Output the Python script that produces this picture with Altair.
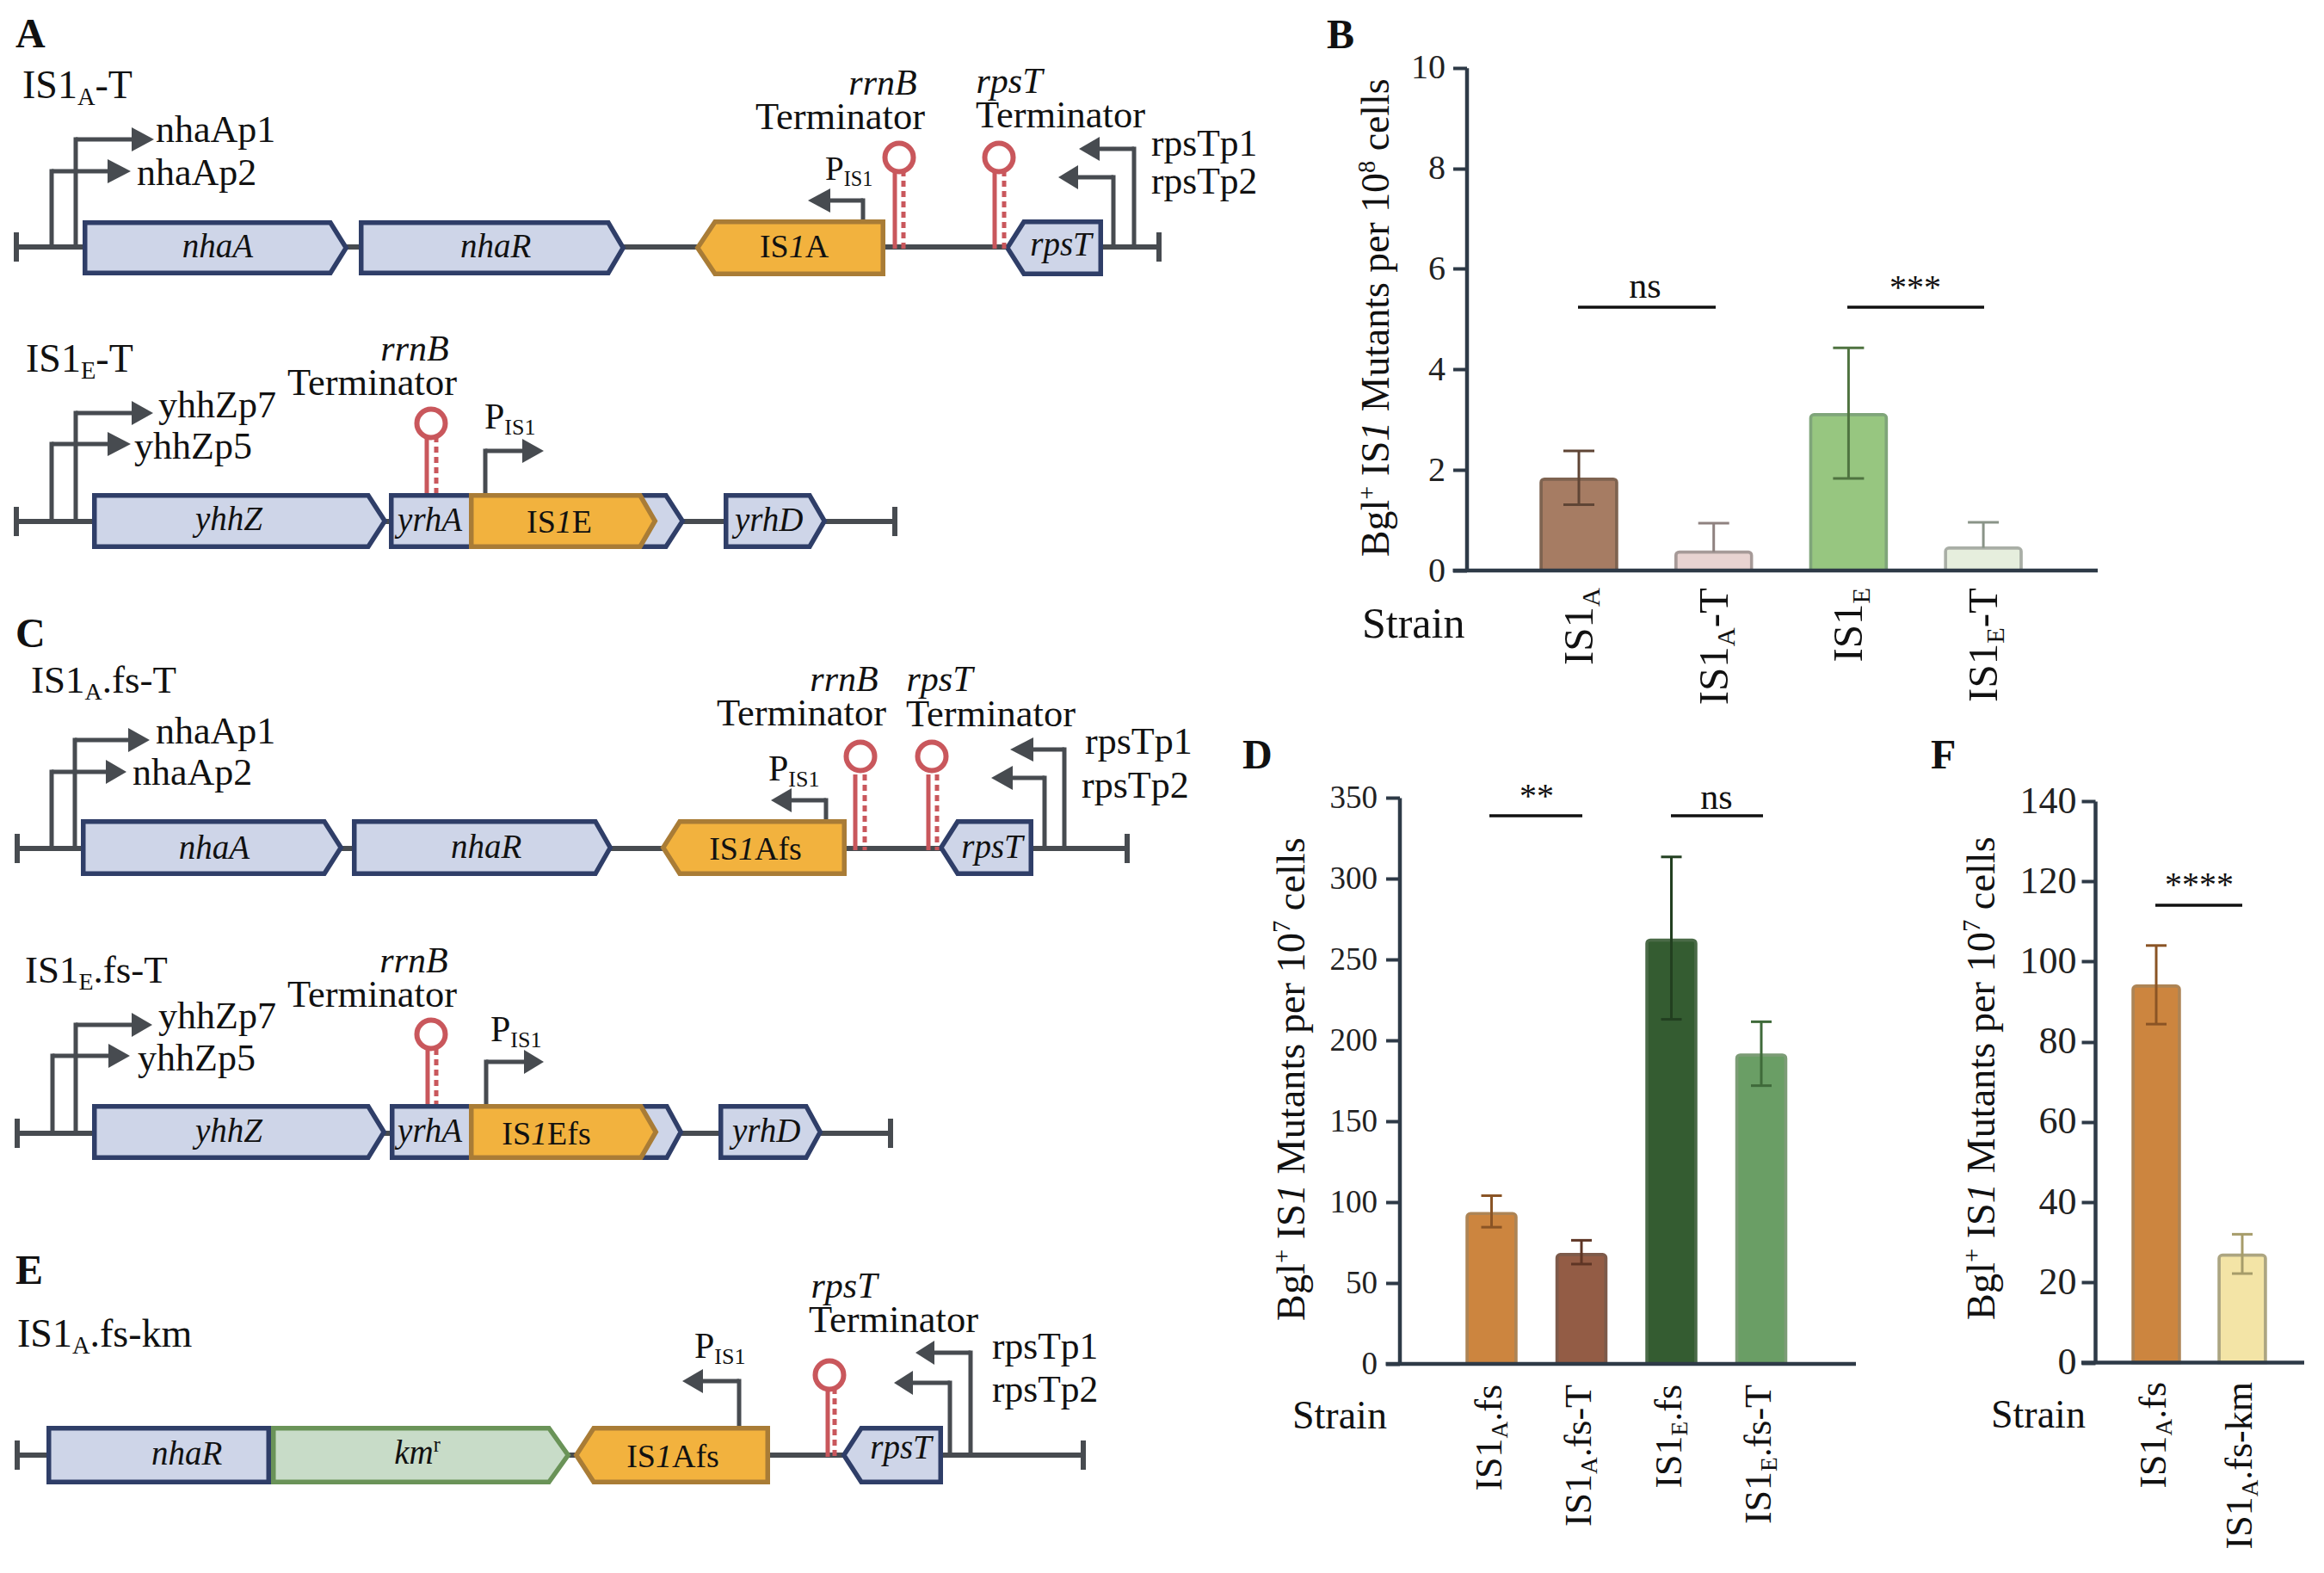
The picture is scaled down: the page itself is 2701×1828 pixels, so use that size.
import re
import altair as alt
import pandas as pd

FONT = "Liberation Serif"
INK = "#111111"
WIRE = "#474b50"
RED = "#c9575c"
AXIS = "#2e3a47"
HOST = ("#ced5e8", "#2f3e68")
INS = ("#f2b23e", "#a97c36")
KM = ("#c8dcc8", "#6a9358")

# ---------- bar panels ----------
B_strains = ["IS1A", "IS1A-T", "IS1E", "IS1E-T"]
B_labels = ["IS1_{A}", "IS1_{A}-T", "IS1_{E}", "IS1_{E}-T"]
B_values = [1.82, 0.37, 3.10, 0.45]
B_hi = [2.38, 0.94, 4.43, 0.96]
B_lo = [1.31, None, 1.83, None]
B_fill = ["#a67c63", "#e8d3d1", "#97c680", "#e6eedd"]
B_edge = ["#7e6350", "#a69a98", "#7fa57a", "#a9aea6"]
B_err = ["#5f4535", "#8f8280", "#4f7340", "#8a9488"]
B_ticks = [0, 2, 4, 6, 8, 10]

D_strains = ["IS1A.fs", "IS1A.fs-T", "IS1E.fs", "IS1E.fs-T"]
D_labels = ["IS1_{A}.fs", "IS1_{A}.fs-T", "IS1_{E}.fs", "IS1_{E}.fs-T"]
D_values = [92.9, 67.7, 262, 191]
D_hi = [104, 76.4, 313.4, 211.5]
D_lo = [84.5, 61.7, 213, 172]
D_fill = ["#cc853f", "#935c45", "#345c31", "#6a9e65"]
D_edge = ["#ad8455", "#7d5a4a", "#4a6a47", "#7c9c76"]
D_err = ["#8a5425", "#5e3525", "#223f20", "#3f6a3a"]
D_ticks = [0, 50, 100, 150, 200, 250, 300, 350]

F_strains = ["IS1A.fs ", "IS1A.fs-km"]
F_labels = ["IS1_{A}.fs", "IS1_{A}.fs-km"]
F_values = [93.9, 26.8]
F_hi = [104, 32]
F_lo = [84.4, 22.2]
F_fill = ["#cc853f", "#f3e4a6"]
F_edge = ["#ad8455", "#aca581"]
F_err = ["#8a5425", "#a69c6a"]
F_ticks = [0, 20, 40, 60, 80, 100, 120, 140]

# ---------- construct maps: name, left/tip, shoulder, right/tip, top, bottom ----------
HOST_GENES = [
    ("A-nhaA", 96, 384, 405, 256, 320), ("A-nhaR", 417, 707, 727, 256, 320),
    ("A-rpsT", 1168, 1190, 1282, 255, 321),
    ("E-yhhZ", 107, 428, 450, 573, 638), ("E-yrhA", 452, 774, 796, 573, 638),
    ("E-yrhD", 841, 941, 961, 573, 638),
    ("C-nhaA", 94, 377, 399, 952, 1018), ("C-nhaR", 409, 692, 712, 952, 1018),
    ("C-rpsT", 1091, 1113, 1201, 952, 1018),
    ("G-yhhZ", 107, 428, 449, 1283, 1348), ("G-yrhA", 453, 775, 794, 1283, 1348),
    ("G-yrhD", 835, 937, 956, 1283, 1348),
    ("K-nhaR", 54, None, 315, 1657, 1725), ("K-rpsT", 978, 1001, 1096, 1657, 1725),
]
INSERT_GENES = [
    ("A-IS1A", 808, 831, 1029, 255, 321), ("E-IS1E", 545, 744, 764, 573, 638),
    ("C-IS1Afs", 768, 790, 984, 952, 1018), ("G-IS1Efs", 545, 745, 765, 1283, 1348),
    ("K-IS1Afs", 667, 690, 895, 1657, 1725),
]
KM_GENES = [("K-km", 315, 638, 663, 1657, 1725)]

# start, end, level
BACKBONES = [(19, 1347, 287), (19, 1040, 606), (20, 1310, 986), (20, 1035, 1317), (20, 1259, 1691)]

# stem x, foot, top, head base, head tip
PROMOTERS = [
    (88, 287, 162, 153, 179), (60, 287, 199, 125, 152), (1003, 255, 233, 965, 939),
    (1318, 287, 173, 1278, 1254), (1294, 287, 206, 1253, 1230),
    (88, 606, 480, 153, 178), (60, 606, 516, 125, 152), (564, 573, 524, 607, 632),
    (87, 986, 860, 149, 174), (60, 986, 897, 123, 147), (960, 952, 930, 920, 896),
    (1237, 986, 871, 1201, 1174), (1214, 986, 904, 1177, 1152),
    (88, 1317, 1191, 153, 177), (61, 1317, 1227, 126, 151), (565, 1283, 1234, 609, 632),
    (859, 1657, 1605, 817, 793), (1128, 1691, 1572, 1086, 1064), (1104, 1691, 1607, 1061, 1039),
]

# solid stem x, dashed stem x, loop x, loop y, stem top, stem foot
TERMINATORS = [
    (1040, 1050, 1045, 183, 198, 289), (1156, 1167, 1161, 183, 198, 289),
    (496, 507, 501, 492, 507, 573),
    (994, 1005, 1000, 879, 900, 988), (1079, 1089, 1083, 879, 900, 988),
    (497, 507, 501, 1202, 1219, 1283),
    (962, 970, 964, 1598, 1613, 1693),
]

# x, baseline, markup, size, anchor, angle
TEXTS = [
    (18, 55, "#A", 48, "l", 0), (1542, 56, "#B", 48, "l", 0), (18, 752, "#C", 48, "l", 0),
    (1444, 893, "#D", 48, "l", 0), (18, 1492, "#E", 48, "l", 0), (2244, 893, "#F", 48, "l", 0),
    # map 1
    (26, 114, "IS1_{A}-T", 46, "l", 0), (181, 165, "nhaAp1", 44, "l", 0), (159, 215, "nhaAp2", 44, "l", 0),
    (253, 299, "/nhaA/", 39, "c", 0), (574, 299, "/nhaR/", 39, "c", 0), (923, 299, "IS/1/A", 38, "c", 0),
    (1233, 297, "/rpsT/", 39, "c", 0), (1026, 110, "/rrnB/", 42, "c", 0), (978, 150, "Terminator", 44.5, "c", 0),
    (1173, 108, "/rpsT/", 42, "c", 0), (1234, 148, "Terminator", 44.5, "c", 0),
    (959, 209, "P_{IS1}", 39, "l", 0), (1338, 181, "rpsTp1", 43.5, "l", 0), (1338, 225, "rpsTp2", 43.5, "l", 0),
    # map 2
    (30, 432, "IS1_{E}-T", 46, "l", 0), (184, 485, "yhhZp7", 44, "l", 0), (156, 533, "yhhZp5", 44, "l", 0),
    (482, 419, "/rrnB/", 42, "c", 0), (434, 459, "Terminator", 44.5, "c", 0), (563, 498, "P_{IS1}", 42, "l", 0),
    (266, 616, "/yhhZ/", 39, "c", 0), (500, 617, "/yrhA/", 39, "c", 0), (650, 619, "IS/1/E", 38, "c", 0),
    (894, 617, "/yrhD/", 39, "c", 0),
    # map 3
    (36, 805, "IS1_{A}.fs-T", 45, "l", 0), (181, 864, "nhaAp1", 44, "l", 0), (154, 912, "nhaAp2", 44, "l", 0),
    (249, 998, "/nhaA/", 39, "c", 0), (563, 997, "/nhaR/", 39, "c", 0), (878, 999, "IS/1/Afs", 38, "c", 0),
    (1153, 997, "/rpsT/", 39, "c", 0), (981, 803, "/rrnB/", 42, "c", 0), (933, 843, "Terminator", 44.5, "c", 0),
    (1092, 803, "/rpsT/", 42, "c", 0), (1153, 844, "Terminator", 44.5, "c", 0), (893, 907, "P_{IS1}", 42, "l", 0),
    (1261, 876, "rpsTp1", 44, "l", 0), (1257, 927, "rpsTp2", 44, "l", 0),
    # map 4
    (29, 1142, "IS1_{E}.fs-T", 45, "l", 0), (184, 1195, "yhhZp7", 44, "l", 0), (160, 1244, "yhhZp5", 44, "l", 0),
    (266, 1327, "/yhhZ/", 39, "c", 0), (500, 1327, "/yrhA/", 39, "c", 0), (635, 1330, "IS/1/Efs", 38, "c", 0),
    (891, 1327, "/yrhD/", 39, "c", 0), (481, 1130, "/rrnB/", 42, "c", 0), (434, 1170, "Terminator", 44.5, "c", 0),
    (570, 1210, "P_{IS1}", 42, "l", 0),
    # map 5
    (20, 1565, "IS1_{A}.fs-km", 46, "l", 0), (215, 1702, "/nhaR/", 39, "c", 0), (485, 1701, "/km/^{r}", 39, "c", 0),
    (782, 1705, "IS/1/Afs", 38, "c", 0), (1047, 1695, "/rpsT/", 39, "c", 0), (981, 1508, "/rpsT/", 42, "c", 0),
    (1040, 1548, "Terminator", 44.5, "c", 0), (807, 1578, "P_{IS1}", 42, "l", 0),
    (1153, 1579, "rpsTp1", 43.5, "l", 0), (1153, 1629, "rpsTp2", 43.5, "l", 0),
    # panel annotations
    (1614, 647, "Bgl^{+} IS/1/ Mutants per 10^{8} cells", 45.8, "l", 270),
    (1516, 1535, "Bgl^{+} IS/1/ Mutants per 10^{7} cells", 46.3, "l", 270),
    (2318, 1534, "Bgl^{+} IS/1/ Mutants per 10^{7} cells", 46.3, "l", 270),
    (1583, 741, "Strain", 50, "l", 0), (1502, 1660, "Strain", 46, "l", 0), (2314, 1659, "Strain", 46, "l", 0),
    (1912, 346, "ns", 42, "c", 0), (2226, 347, "***", 40, "c", 0),
    (1786, 938, "**", 40, "c", 0), (1995, 940, "ns", 42, "c", 0), (2556, 1041, "****", 40, "c", 0),
]

NORMAL = {"I": .333, "S": .556, "A": .722, "E": .611, "T": .611, "P": .556, "B": .667, "M": .889, "Z": .611,
          "a": .444, "c": .444, "e": .444, "f": .333, "g": .5, "h": .5, "i": .278, "k": .5, "l": .278, "m": .778,
          "n": .5, "o": .5, "p": .5, "r": .333, "s": .389, "t": .278, "u": .5, "y": .5, " ": .25, ".": .25,
          "-": .333, "+": .564, "*": .5}
ITALIC = {"A": .611, "B": .611, "D": .722, "T": .556, "Z": .556, "a": .5, "h": .5, "k": .444, "m": .722,
          "n": .5, "p": .5, "r": .389, "s": .389, "y": .444, "1": .5}


def spans(markup):
    out = []
    for tok in re.findall(r"_\{[^}]*\}|\^\{[^}]*\}|/[^/]*/|[^_^/]+", markup):
        if tok[0] == "_":
            out.append((tok[2:-1], "normal", .62, .17))
        elif tok[0] == "^":
            out.append((tok[2:-1], "normal", .62, -.36))
        elif tok[0] == "/":
            out.append((tok[1:-1], "italic", 1, 0))
        else:
            out.append((tok, "normal", 1, 0))
    return out


def wid(txt, style):
    tab = ITALIC if style == "italic" else NORMAL
    return sum(tab.get(ch, .5) for ch in txt)


def explode(x, y, markup, size, anchor, angle):
    if markup[0] == "#":
        return [dict(x=x, y=y, t=markup[1:], s=size, a=angle, w="bold")]
    parts = spans(markup)
    total = sum(wid(t, st) * size * k for t, st, k, _ in parts)
    pos = {"l": 0, "c": total / 2, "r": total}[anchor]
    rows = []
    off = -pos
    for t, st, k, dy in parts:
        lead = len(t) - len(t.lstrip(" "))
        adv = off + lead * NORMAL[" "] * size * k
        shown = t.strip(" ")
        if angle == 270:
            rows.append(dict(x=x + dy * size, y=y - adv, t=shown, s=size * k, a=270, w=st))
        else:
            rows.append(dict(x=x + adv, y=y + dy * size, t=shown, s=size * k, a=0, w=st))
        off += wid(t, st) * size * k
    return rows


W, H = 2685, 1812
PX = alt.Scale(domain=[8, 8 + W], range=[0, W], nice=False, zero=False)
PY = alt.Scale(domain=[8, 8 + H], range=[0, H], nice=False, zero=False)
xq = lambda f="x": alt.X(f"{f}:Q", scale=PX, axis=None)
yq = lambda f="y": alt.Y(f"{f}:Q", scale=PY, axis=None)


def polygons(items, colours, sw=5.5):
    rows = []
    for name, a, b, c, top, bot in items:
        t, d, m = top + sw / 2, bot - sw / 2, (top + bot) / 2
        if b is None:
            pts = [(a + sw / 2, t, d), (c - sw / 2, t, d)]
        elif b > a and c > b and (c - b) < (b - a):
            pts = [(a + sw / 2, t, d), (b, t, d), (c - sw / 2, m, m)]
        else:
            pts = [(a + sw / 2, m, m), (b, t, d), (c - sw / 2, t, d)]
        rows += [dict(id=name, x=p[0], y=p[1], y2=p[2]) for p in pts]
    return (alt.Chart(pd.DataFrame(rows)).mark_area(fill=colours[0], stroke=colours[1], strokeWidth=sw,
                                                    opacity=1, strokeJoin="miter", interpolate="linear")
            .encode(x=xq(), y=yq(), y2="y2:Q", detail="id:N"))


def rules(rows, dash=None):
    kw = {"strokeDash": dash} if dash else {}
    return (alt.Chart(pd.DataFrame(rows)).mark_rule(**kw)
            .encode(x=xq(), x2="x2:Q", y=yq(), y2="y2:Q",
                    color=alt.Color("c:N", scale=None), strokeWidth=alt.StrokeWidth("w:Q", scale=None)))


def seg(x, y, x2, y2, c, w):
    return dict(x=x, y=y, x2=x2, y2=y2, c=c, w=w)


layers = []

# wires
wire = []
for a, b, y in BACKBONES:
    wire.append(seg(a, y, b, y, WIRE, 6))
    wire.append(seg(a, y - 17, a, y + 17, WIRE, 6))
    wire.append(seg(b, y - 17, b, y + 17, WIRE, 6))
for sx, foot, top, base, tip in PROMOTERS:
    wire.append(seg(sx, foot, sx, top - 2.5, WIRE, 5))
    wire.append(seg(sx, top, base, top, WIRE, 5))
layers.append(rules(wire))

# arrow heads
heads = []
for i, (sx, foot, top, base, tip) in enumerate(PROMOTERS):
    if tip > base:
        heads += [dict(id=i, x=base, y=top - 14, y2=top + 14), dict(id=i, x=tip, y=top, y2=top)]
    else:
        heads += [dict(id=i, x=tip, y=top, y2=top), dict(id=i, x=base, y=top - 14, y2=top + 14)]
layers.append(alt.Chart(pd.DataFrame(heads)).mark_area(fill=WIRE, opacity=1)
              .encode(x=xq(), y=yq(), y2="y2:Q", detail="id:N"))

layers.append(polygons(HOST_GENES, HOST))
layers.append(polygons(KM_GENES, KM))
layers.append(polygons(INSERT_GENES, INS))

# terminators
layers.append(rules([seg(s, top, s, foot, RED, 5) for s, d, lx, ly, top, foot in TERMINATORS]))
layers.append(rules([seg(d, top, d, foot, RED, 5) for s, d, lx, ly, top, foot in TERMINATORS], dash=[7, 5]))
loops = pd.DataFrame([dict(x=lx, y=ly) for s, d, lx, ly, top, foot in TERMINATORS])
layers.append(alt.Chart(loops).mark_point(shape="circle", filled=False, size=1090, stroke=RED, strokeWidth=6, opacity=1)
              .encode(x=xq(), y=yq()))


def panel(strains, labels, vals, hi, lo, fill, edge, err, ticks, axis_x, y0, ytop, ymax,
          c0, step, bar_w, cap_w, right, tick_font, tick_pad, label_font, label_off, label_top, sigs):
    n = len(strains)
    df = pd.DataFrame(dict(strain=strains, v=vals, hi=hi, fill=fill, edge=edge, err=err))
    df["lo"] = [l if l is not None else v for l, v in zip(lo, vals)]
    xs = alt.Scale(domain=strains, range=[c0 - step / 2 - 8, c0 + step * (n - 0.5) - 8], paddingInner=0, paddingOuter=0)
    ys = alt.Scale(domain=[0, ymax], range=[y0 - 8, ytop - 8], nice=False, zero=False)
    x = alt.X("strain:N", scale=xs, axis=None, sort=None)
    yaxis = alt.Axis(values=ticks, title=None, grid=False, orient="left", offset=-(axis_x - 8), tickSize=16, tickWidth=4,
                     tickColor=AXIS, domainColor=AXIS, domainWidth=4.5, labelFont=FONT, labelFontSize=tick_font,
                     labelColor="#222222", labelPadding=tick_pad, format="d")
    out = []
    for i in range(n):
        one = df.iloc[[i]]
        out.append(
            alt.Chart(one).mark_bar(size=bar_w - 3, stroke=edge[i], fill=fill[i], strokeWidth=3.5,
                                    cornerRadiusTopLeft=4, cornerRadiusTopRight=4, opacity=1)
            .encode(x=x, y=alt.Y("v:Q", scale=ys, axis=yaxis if i == 0 else None))
        )
    out += [
        alt.Chart(df).mark_rule(strokeWidth=3)
        .encode(x=x, y=alt.Y("hi:Q", scale=ys, axis=None), y2="lo:Q", color=alt.Color("err:N", scale=None)),
        alt.Chart(df).mark_tick(size=cap_w, thickness=3, orient="horizontal", opacity=1)
        .encode(x=x, y=alt.Y("hi:Q", scale=ys, axis=None), color=alt.Color("err:N", scale=None)),
        alt.Chart(df[[l is not None for l in lo]]).mark_tick(size=cap_w, thickness=3, orient="horizontal", opacity=1)
        .encode(x=x, y=alt.Y("lo:Q", scale=ys, axis=None), color=alt.Color("err:N", scale=None)),
    ]
    rows = [seg(axis_x - 16, y0, right, y0, AXIS, 4.5)]
    for a, b, y in sigs:
        rows.append(seg(a, y, b, y, "#111111", 3.5))
    out.append(rules(rows))
    labs = []
    for i, lab in enumerate(labels):
        labs.append((c0 + step * i + label_off, label_top, lab, label_font, "r", 270))
    return out, labs


extra = []
for args in [
    (B_strains, B_labels, B_values, B_hi, B_lo, B_fill, B_edge, B_err, B_ticks, 1704.5, 663, 78.7, 10,
     1835, 156.7, 91, 36, 2438, 40, 9, 49, 16, 683, [(1834, 1994, 357), (2147, 2306, 357)]),
    (D_strains, D_labels, D_values, D_hi, D_lo, D_fill, D_edge, D_err, D_ticks, 1626.5, 1585, 927, 350,
     1733.5, 104.5, 60, 24, 2157, 37, 10, 44, 11, 1609, [(1731, 1839, 948), (1942, 2049, 948)]),
    (F_strains, F_labels, F_values, F_hi, F_lo, F_fill, F_edge, F_err, F_ticks, 2435, 1583.5, 931, 140,
     2506, 100, 57, 24, 2678, 44, 6, 44, 11, 1606, [(2505, 2606, 1052)]),
]:
    pl, labs = panel(*args)
    layers += pl
    extra += labs

rows = []
for item in TEXTS + extra:
    rows += explode(*item)
tx = pd.DataFrame(rows)
for weight in ["normal", "italic", "bold"]:
    sub = tx[tx.w == weight]
    kw = {"fontWeight": "bold"} if weight == "bold" else ({"fontStyle": "italic"} if weight == "italic" else {})
    layers.append(
        alt.Chart(sub).mark_text(font=FONT, align="left", baseline="alphabetic", color=INK, **kw)
        .encode(x=xq(), y=yq(), text="t:N", size=alt.Size("s:Q", scale=None), angle=alt.Angle("a:Q", scale=None))
    )

chart = (
    alt.layer(*layers)
    .resolve_scale(x="independent", y="independent")
    .resolve_axis(x="independent", y="independent")
    .properties(width=W, height=H, padding=0, autosize=alt.AutoSizeParams(type="none"), background="white")
    .configure_view(stroke=None)
)
chart.save("out.html", embed_options={"renderer": "svg", "actions": False})
